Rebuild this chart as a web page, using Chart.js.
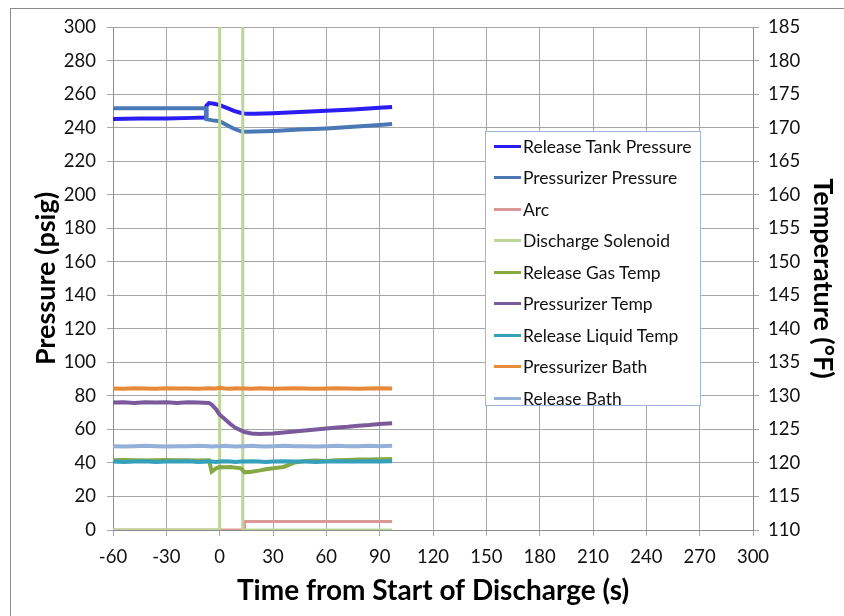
<!DOCTYPE html>
<html>
<head>
<meta charset="utf-8">
<script src="https://cdn.jsdelivr.net/npm/chart.js@4/dist/chart.umd.min.js"></script>
<style>
  body { margin: 0; background: #fff; font-family: Lato, sans-serif; }
  #wrap { position: relative; width: 844px; height: 616px; overflow: hidden; }
  #frame { position: absolute; left: 10px; top: 8px; width: 900px; height: 700px; border: 1px solid #8c8c8c; }
  #chart { position: absolute; left: 0; top: 0; }
  #legend {
    position: absolute; left: 485px; top: 131px; width: 214px; height: 273px;
    border: 1px solid #9bb7dc; background: #fff;
  }
  .item { position: absolute; left: 0; height: 20px; display: flex; align-items: center; font-size: 17.5px; color: #111; white-space: nowrap; }
  .swatch { display: inline-block; width: 27px; height: 3px; margin-left: 8px; margin-right: 2px; }
</style>
</head>
<body>
<div id="wrap">
  <div id="frame"></div>
  <canvas id="chart" width="844" height="616"></canvas>
  <div id="legend"></div>
</div>
<script>
// time axis ticks (s)
const timeTicks = [-60, -30, 0, 30, 60, 90, 120, 150, 180, 210, 240, 270, 300]

// pressures (psig)
const tankTime = [-60, -45, -30, -15, -7.5, -7.5, -6, -3, 0, 4, 8, 12, 15, 20, 30, 45, 60, 75, 90, 97]
const tankPressure = [245.2, 245.4, 245.5, 245.8, 246, 253, 254.6, 254.2, 253.4, 251.8, 250, 248.7, 248.2, 248.3, 248.6, 249.3, 250, 250.8, 251.8, 252.3]

const pressTime = [-60, -30, -7.5, -7.5, -4, 0, 4, 8, 12, 14, 20, 30, 45, 60, 75, 90, 97]
const pressPressure = [251.5, 251.5, 251.5, 245, 244.3, 243.8, 241.5, 239.3, 237.8, 237.5, 237.6, 238, 238.8, 239.5, 240.5, 241.6, 242.2]

const arcTime = [-60, 14, 14, 97]
const arcValue = [0, 0, 5, 5]

const solenoidTime = [-60, 0, 0, 13, 13, 97]
const solenoidValue = [0, 0, 320, 320, 0, 0]

// temperatures (°F)
const tempTime = [-60, -54, -48, -42, -36, -30, -24, -18, -12, -6, -4.5, -2, 0, 3, 6, 9, 12, 14, 18, 22, 26, 30, 36, 42, 48, 54, 60, 66, 72, 78, 84, 90, 97]
const gasTemp = [120.4, 120.45, 120.4, 120.35, 120.4, 120.45, 120.4, 120.4, 120.35, 120.4, 118.7, 119.2, 119.4, 119.35, 119.4, 119.3, 119.2, 118.6, 118.7, 118.85, 119.05, 119.2, 119.4, 120.05, 120.3, 120.35, 120.3, 120.4, 120.45, 120.5, 120.5, 120.55, 120.6]
const pressTemp = [129.0, 129.05, 128.95, 129.05, 129.0, 129.05, 128.95, 129.05, 129.0, 128.95, 128.7, 128.0, 127.2, 126.5, 125.8, 125.2, 124.85, 124.6, 124.4, 124.3, 124.35, 124.4, 124.55, 124.7, 124.85, 125.0, 125.15, 125.3, 125.4, 125.55, 125.65, 125.8, 125.9]
const liquidTemp = [120.2, 120.15, 120.2, 120.25, 120.15, 120.2, 120.2, 120.25, 120.15, 120.2, 120.2, 120.15, 120.2, 120.25, 120.2, 120.15, 120.2, 120.2, 120.25, 120.2, 120.15, 120.2, 120.25, 120.2, 120.2, 120.15, 120.2, 120.25, 120.2, 120.2, 120.25, 120.2, 120.25]
const pressBath = [131.1, 131.05, 131.15, 131.1, 131.05, 131.15, 131.1, 131.1, 131.05, 131.15, 131.1, 131.1, 131.2, 131.1, 131.05, 131.15, 131.1, 131.1, 131.05, 131.15, 131.1, 131.05, 131.1, 131.15, 131.1, 131.05, 131.1, 131.15, 131.1, 131.05, 131.1, 131.15, 131.1]
const releaseBath = [122.5, 122.45, 122.5, 122.55, 122.5, 122.45, 122.5, 122.5, 122.55, 122.5, 122.45, 122.5, 122.5, 122.55, 122.5, 122.45, 122.5, 122.5, 122.55, 122.5, 122.45, 122.5, 122.55, 122.5, 122.5, 122.45, 122.5, 122.55, 122.5, 122.5, 122.55, 122.5, 122.55]

const pairs = (xs, ys) => xs.map((x, i) => ({ x: x, y: ys[i] }))

const series = [
  { label: 'Release Tank Pressure', data: pairs(tankTime, tankPressure), color: '#2a1cf2', axis: 'y' },
  { label: 'Pressurizer Pressure', data: pairs(pressTime, pressPressure), color: '#4a78b4', axis: 'y' },
  { label: 'Arc', data: pairs(arcTime, arcValue), color: '#dc9896', axis: 'y' },
  { label: 'Discharge Solenoid', data: pairs(solenoidTime, solenoidValue), color: '#bdd598', axis: 'y' },
  { label: 'Release Gas Temp', data: pairs(tempTime, gasTemp), color: '#86a845', axis: 'y2' },
  { label: 'Pressurizer Temp', data: pairs(tempTime, pressTemp), color: '#7a5a9c', axis: 'y2' },
  { label: 'Release Liquid Temp', data: pairs(tempTime, liquidTemp), color: '#35a0bc', axis: 'y2' },
  { label: 'Pressurizer Bath', data: pairs(tempTime, pressBath), color: '#e8893a', axis: 'y2' },
  { label: 'Release Bath', data: pairs(tempTime, releaseBath), color: '#94afd8', axis: 'y2' }
]

const gridColor = '#a6a6a6'
const tickFont = { family: 'Lato', size: 18.5 }
const titleFont = { family: 'Lato', size: 27, weight: 'bold' }

const chart = new Chart(document.getElementById('chart').getContext('2d'), {
  type: 'line',
  data: {
    datasets: series.map((s, i) => ({
      label: s.label,
      data: s.data,
      borderColor: s.color,
      backgroundColor: s.color,
      borderWidth: i === 2 || i === 3 ? 3 : 4,
      pointRadius: 0,
      tension: 0,
      fill: false,
      yAxisID: s.axis,
      order: series.length - i
    }))
  },
  options: {
    responsive: false,
    animation: false,
    events: [],
    layout: { padding: { top: 27, left: 0, right: 0, bottom: 0 } },
    plugins: { legend: { display: false }, tooltip: { enabled: false } },
    scales: {
      x: {
        type: 'linear',
        min: -60,
        max: 300,
        afterBuildTicks: (scale) => { scale.ticks = timeTicks.map(v => ({ value: v })) },
        afterFit: (scale) => { scale.height = 86 },
        grid: { color: gridColor, tickLength: 6 },
        border: { color: '#8c8c8c' },
        ticks: { font: tickFont, color: '#111', padding: 10, maxRotation: 0 },
        title: { display: true, text: 'Time from Start of Discharge (s)', font: { family: 'Lato', size: 28, weight: 'bold' }, color: '#000', padding: { bottom: 8 } }
      },
      y: {
        position: 'left',
        min: 0,
        max: 300,
        afterFit: (scale) => { scale.width = 113 },
        grid: { color: gridColor, tickLength: 6 },
        border: { color: '#8c8c8c' },
        ticks: { stepSize: 20, font: tickFont, color: '#111', padding: 11 },
        title: { display: true, text: 'Pressure (psig)', font: titleFont, color: '#000', padding: { top: 30 } }
      },
      y2: {
        position: 'right',
        min: 110,
        max: 185,
        afterFit: (scale) => { scale.width = 91 },
        grid: { color: gridColor, tickLength: 6, drawOnChartArea: false },
        border: { color: '#8c8c8c' },
        ticks: { stepSize: 5, font: tickFont, color: '#111', padding: 9 },
        title: { display: true, text: 'Temperature (°F)', font: titleFont, color: '#000', padding: { top: 5 } }
      }
    }
  }
})

// legend box drawn inside the plot, like the original
const legendBox = document.getElementById('legend')
chart.data.datasets.forEach((ds, i) => {
  const row = document.createElement('div')
  row.className = 'item'
  row.style.top = (4 + i * 31.5) + 'px'
  row.innerHTML = '<span class="swatch" style="background:' + ds.borderColor + '"></span>' + ds.label
  legendBox.appendChild(row)
})
</script>
</body>
</html>
